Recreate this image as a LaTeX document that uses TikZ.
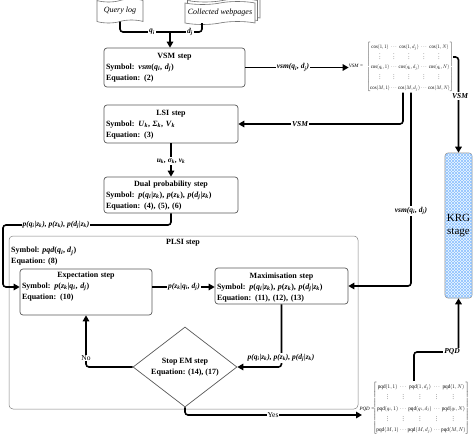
\documentclass[tikz,border=0pt]{standalone}
\usepackage{fontspec}
\usepackage{graphicx}
\setmainfont{Liberation Serif}
\usetikzlibrary{arrows.meta,shapes.geometric,shapes.symbols,shadows,patterns}
\newcommand\Iq{\textit{q}\textsubscript{\textit{i}}}
\newcommand\Id{\textit{d}\textsubscript{\textit{j}}}
\newcommand\Iz{\textit{z}\textsubscript{\textit{k}}}
\newcommand\Ip[1]{\textit{p}(#1)}
\newcommand\threep{\Ip{\Iq|\Iz}, \Ip{\Iz}, \Ip{\Id|\Iz}}
\newcommand\ctitle[1]{\makebox[\hsize][c]{#1}}
\begin{document}
\begin{tikzpicture}[x=1pt,y=-1pt,
  box/.style={draw=black!65, line width=0.7pt, rounded corners=3pt, fill=white, inner sep=0pt},
  boxtext/.style={font=\bfseries\fontsize{8}{11}\selectfont, align=left, inner sep=0pt, anchor=north},
  conn/.style={line width=1.6pt, rounded corners=3pt},
  arr/.style={conn, -{Triangle[length=6pt,width=6.5pt]}},
  elabel/.style={fill=white, inner sep=1pt, font=\bfseries\itshape\fontsize{7.5}{9}\selectfont},
  plainlabel/.style={fill=white, inner sep=1pt, font=\fontsize{7.5}{9}\selectfont},
  mateq/.style={inner sep=0pt, font=\itshape\fontsize{5}{6}\selectfont},
  docshape/.style={tape, draw=black!55, fill=white, line width=0.6pt, tape bend height=3pt, inner sep=1pt, font=\itshape\fontsize{8}{9}\selectfont},
]
\useasboundingbox (0,0) rectangle (474,434);

% PLSI container
\node[draw=black!50, line width=0.5pt, rounded corners=4pt, minimum width=349pt, minimum height=173pt, inner sep=0pt] (plsi) at (183.5,322.5) {};
\node[inner sep=0pt, font=\bfseries\fontsize{8}{11}\selectfont] (plsit) at (183,243) {PLSI step};
\node[inner sep=0pt, anchor=north west, align=left, font=\bfseries\fontsize{8}{11}\selectfont] (plsis) at (11,247) {Symbol: \textit{pqd}(\Iq, \Id)\\Equation: (8)};

% input documents
\node[docshape, minimum width=46pt, minimum height=24pt] (ql) at (120,11) {Query log};
\node[docshape, minimum width=70pt, minimum height=23pt,
  double copy shadow={shadow xshift=2.5pt, shadow yshift=2.5pt}] (web) at (220,13) {Collected webpages};

% boxes
\node[box, minimum width=141pt, minimum height=39pt] (vsm) at (174.5,67.5) {};
\node[boxtext, text width=137pt] (vsmt) at ([yshift=-5pt]vsm.north) {\ctitle{VSM step}\\Symbol: \textit{vsm}(\Iq, \Id)\\Equation: (2)};

\node[box, minimum width=134pt, minimum height=38pt] (lsi) at (171,124) {};
\node[boxtext, text width=130pt] (lsit) at ([yshift=-5pt]lsi.north) {\ctitle{LSI step}\\Symbol: \textit{U}\textsubscript{\textit{k}}, \textit{Σ}\textsubscript{\textit{k}}, \textit{V}\textsubscript{\textit{k}}\\Equation: (3)};

\node[box, minimum width=134pt, minimum height=36pt] (dual) at (171,195) {};
\node[boxtext, text width=130pt] (dualt) at ([yshift=-4pt]dual.north) {\ctitle{Dual probability step}\\Symbol: \threep\\Equation: (4), (5), (6)};

\node[box, minimum width=132pt, minimum height=46pt] (exp) at (86,292) {};
\node[boxtext, text width=128pt] (expt) at ([yshift=-3pt]exp.north) {\ctitle{Expectation step}\\Symbol: \Ip{\Iz|\Iq, \Id}\\Equation: (10)};

\node[box, minimum width=133pt, minimum height=36pt] (max) at (281.5,286) {};
\node[boxtext, text width=129pt] (maxt) at ([yshift=-5pt]max.north) {\ctitle{Maximisation step}\\Symbol: \threep\\Equation: (11), (12), (13)};

\node[diamond, draw=black!65, line width=0.7pt, fill=white, aspect=1.3, inner sep=0pt, minimum width=104pt, minimum height=80pt, align=center, font=\bfseries\fontsize{8}{11}\selectfont] (em) at (185,367) {Stop EM step\\Equation: (14), (17)};

% KRG stage
\node[draw=black!45, line width=0.6pt, rounded corners=3pt, fill=cyan!6,
  postaction={pattern=north east lines, pattern color=cyan!45!blue!45},
  postaction={pattern=north west lines, pattern color=cyan!45!blue!45},
  minimum width=27pt, minimum height=145pt, inner sep=0pt, align=center,
  font=\fontsize{11}{13}\selectfont] (krg) at (458.5,225.5) {KRG\\stage};

% matrices
\node[mateq] (vsmeq) at (356,66) {VSM =};
\node[inner sep=0pt] (vsmmat) at (410,67) {\resizebox*{86pt}{51pt}{\renewcommand{\arraystretch}{1.6}$\left[\begin{array}{@{}c@{\;}c@{\;}c@{\;}c@{\;}c@{}}
\mathrm{cos}(1,1) & \cdots & \mathrm{cos}(1,d_j) & \cdots & \mathrm{cos}(1,N)\\
\vdots & \vdots & \vdots & \vdots & \vdots\\
\mathrm{cos}(q_i,1) & \cdots & \mathrm{cos}(q_i,d_j) & \cdots & \mathrm{cos}(q_i,N)\\
\vdots & \vdots & \vdots & \vdots & \vdots\\
\mathrm{cos}(M,1) & \cdots & \mathrm{cos}(M,d_j) & \cdots & \mathrm{cos}(M,N)
\end{array}\right]$}};

\node[mateq] (pqdeq) at (367,409) {PQD =};
\node[inner sep=0pt] (pqdmat) at (421,408) {\resizebox*{96pt}{54pt}{\renewcommand{\arraystretch}{1.6}$\left[\begin{array}{@{}c@{\;}c@{\;}c@{\;}c@{\;}c@{}}
\mathrm{pqd}(1,1) & \cdots & \mathrm{pqd}(1,d_j) & \cdots & \mathrm{pqd}(1,N)\\
\vdots & \vdots & \vdots & \vdots & \vdots\\
\mathrm{pqd}(q_i,1) & \cdots & \mathrm{pqd}(q_i,d_j) & \cdots & \mathrm{pqd}(q_i,N)\\
\vdots & \vdots & \vdots & \vdots & \vdots\\
\mathrm{pqd}(M,1) & \cdots & \mathrm{pqd}(M,d_j) & \cdots & \mathrm{pqd}(M,N)
\end{array}\right]$}};

% connector points
\coordinate (join) at (170,32);
\coordinate (lc) at (3,225);
\coordinate (yesend) at (362,415);
\coordinate (pc) at (458.5,352);

% connectors
\draw[conn] (ql.south) |- (join);
\draw[conn] ([xshift=-18pt]web.south) |- (join);
\draw[arr] (join) -- (join |- vsm.north);
\draw[arr] (vsm.east) -- (vsm.east -| vsmeq.west);
\draw[arr] ([yshift=10pt]vsmmat.east) -| (krg.north);
\draw[arr] ([xshift=-7pt]vsmmat.south) |- (lsi.east);
\draw[arr] ([xshift=1pt]vsmmat.south) |- (max.east);
\draw[arr] (lsi.south) -- (dual.north);
\draw[arr] (dual.south) |- (lc) |- ([yshift=5pt]exp.west);
\draw[arr] ([yshift=5pt]exp.east) -- ([yshift=5pt]exp.east -| max.west);
\draw[arr] (max.south) |- (em.east);
\draw[arr] (em.west) -| (exp.south);
\draw[arr] (em.south) |- (yesend);
\draw[arr] ([xshift=-7pt]pqdmat.north) |- (pc) -- (krg.south);

% labels
\node[elabel] (lq) at (152,32) {\Iq};
\node[elabel] (ld) at (190,32) {\Id};
\node[elabel] (lvsm1) at (293,67.5) {\textit{vsm}(\Iq, \Id)};
\node[elabel] (lvsm2) at (460,96) {VSM};
\node[elabel] (lvsm3) at (300,124) {VSM};
\node[elabel] (lvsm4) at (411,211) {\textit{vsm}(\Iq, \Id)};
\node[elabel] (lusv) at (171,161) {\textit{u}\textsubscript{\textit{k}}, \textit{σ}\textsubscript{\textit{k}}, \textit{v}\textsubscript{\textit{k}}};
\node[elabel] (lp1) at (56,225) {\threep};
\node[elabel] (lp2) at (184,287) {\Ip{\Iz|\Iq, \Id}};
\node[elabel] (lp3) at (281,358) {\threep};
\node[plainlabel] (lno) at (86,358) {No};
\node[plainlabel] (lyes) at (273,415) {Yes};
\node[elabel] (lpqd) at (452,352) {PQD};
\end{tikzpicture}
\end{document}
